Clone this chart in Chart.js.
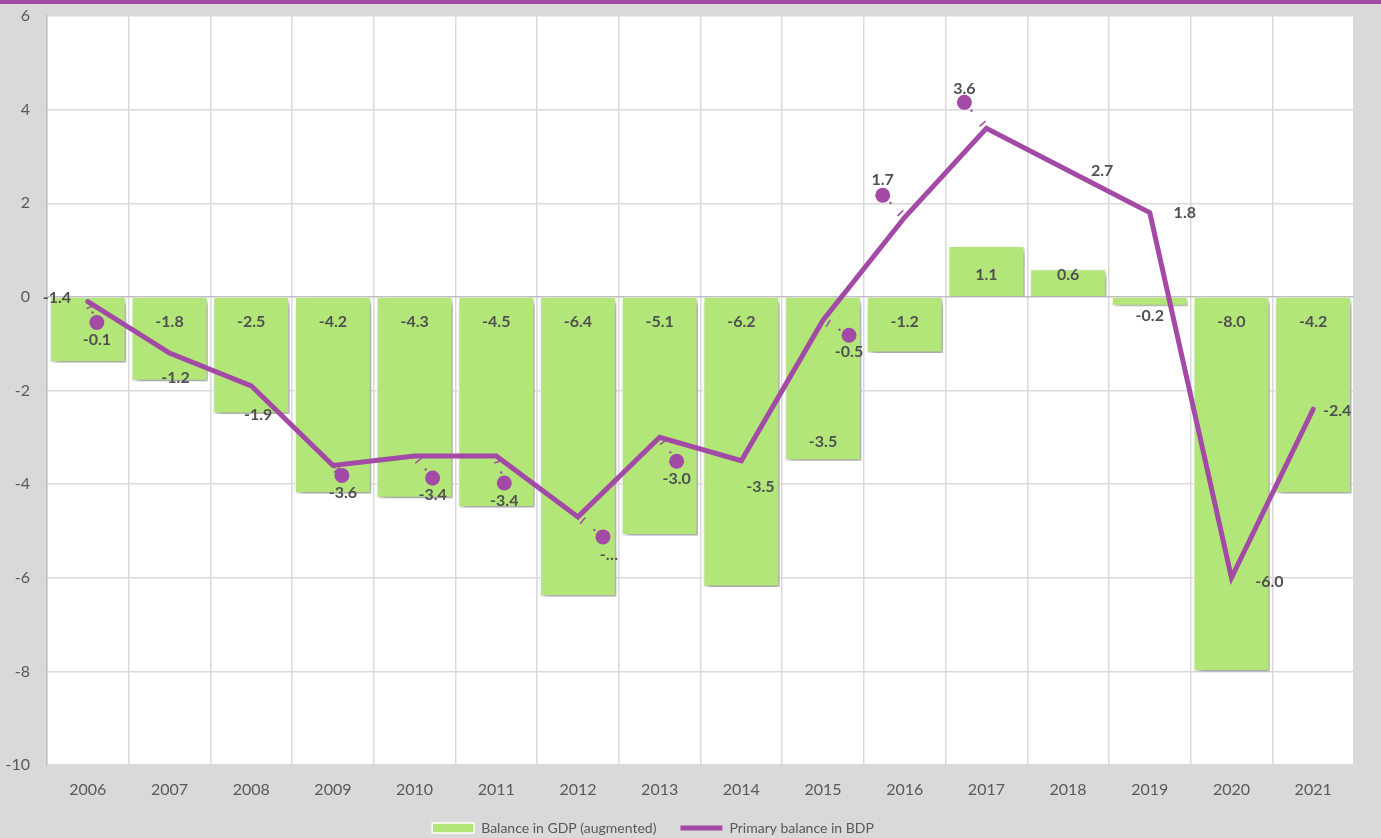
<!DOCTYPE html>
<html>
<head>
<meta charset="utf-8">
<script src="https://cdn.jsdelivr.net/npm/chart.js@4.4.1/dist/chart.umd.min.js"></script>
<style>
  html, body { margin: 0; padding: 0; background: #d9d9d9; }
  #wrap { width: 1381px; height: 838px; position: relative; }
</style>
</head>
<body>
<div id="wrap"><canvas id="balanceChart"></canvas></div>
<script>
const years = [
  "2006", "2007", "2008", "2009", "2010", "2011", "2012", "2013",
  "2014", "2015", "2016", "2017", "2018", "2019", "2020", "2021",
];

const balanceGdp = [
  -1.4, -1.8, -2.5, -4.2, -4.3, -4.5, -6.4, -5.1,
  -6.2, -3.5, -1.2, 1.1, 0.6, -0.2, -8.0, -4.2,
];

const primaryBalance = [
  -0.1, -1.2, -1.9, -3.6, -3.4, -3.4, -4.7, -3.0,
  -3.5, -0.5, 1.7, 3.6, 2.7, 1.8, -6.0, -2.4,
];

const yTicks = [-10, -8, -6, -4, -2, 0, 2, 4, 6];

// labels excel cut short
const truncatedLine = [6];

const FONT = "Lato";
const GREEN = "#b2e679";
const PURPLE = "#a24aa5";
const TEXT_GREY = "#595959";
const LABEL_GREY = "#505050";

// ── label placement (pixels, moved by hand in the original) ──
const barLabelNudge = { 0: [-31, -24], 9: [0, 120], 13: [0, -6] };

// [labelDx, labelDy, dotDx, dotDy]
const lineLabelOffsets = [
  [9, 38, 9, 21],
  [6, 25],
  [7, 29],
  [10, 27, 9, 10],
  [18, 39, 18, 22],
  [8, 45, 8, 27],
  [31, 38, 25, 20],
  [17, 42, 17, 24],
  [19, 26],
  [26, 32, 26, 15],
  [-22, -37, -22, -22],
  [-22, -40, -22, -26],
  [34, 0],
  [35, 0],
  [38, 4],
  [24, 2],
];

// ── background + plot area ───────────────────────────────
const backdropPlugin = {
  id: "backdrop",
  afterLayout(chart) {
    // legend sits a bit left of the canvas centre in the original
    chart.legend.left -= 24;
    chart.legend.right -= 24;
  },
  beforeDraw(chart) {
    const { ctx: c, chartArea: a, width, height } = chart;
    c.save();
    c.fillStyle = "#d9d9d9";
    c.fillRect(0, 0, width, height);
    c.fillStyle = PURPLE;
    c.fillRect(0, 0, width, 4);
    c.fillStyle = "#ffffff";
    c.fillRect(a.left, a.top, a.right - a.left, a.bottom - a.top);
    c.restore();
  },
};

// ── bar drop shadow ──────────────────────────────────────
const barShadowPlugin = {
  id: "barShadow",
  beforeDatasetDraw(chart, args) {
    if (args.index !== 0) return;
    const c = chart.ctx;
    c.save();
    c.shadowColor = "rgba(0,0,0,0.38)";
    c.shadowBlur = 6;
    c.shadowOffsetX = 3;
    c.shadowOffsetY = 4;
  },
  afterDatasetDraw(chart, args) {
    if (args.index !== 0) return;
    chart.ctx.restore();
  },
};

// ── data labels ──────────────────────────────────────────
const valueLabelPlugin = {
  id: "valueLabels",
  afterDatasetsDraw(chart) {
    const c = chart.ctx;
    const zero = chart.scales.y.getPixelForValue(0);

    c.save();
    c.font = `bold 16px ${FONT}`;
    c.textAlign = "center";
    c.textBaseline = "middle";

    chart.getDatasetMeta(0).data.forEach((bar, i) => {
      const v = balanceGdp[i];
      const nudge = barLabelNudge[i] || [0, 0];
      const y = v < 0 ? zero + 25 : zero - 22;
      c.fillStyle = LABEL_GREY;
      c.fillText(v.toFixed(1), bar.x + nudge[0], y + nudge[1]);
    });

    chart.getDatasetMeta(1).data.forEach((pt, i) => {
      const [dx, dy, ddx, ddy] = lineLabelOffsets[i];

      if (ddx !== undefined) {
        const tx = pt.x + ddx;
        const ty = pt.y + ddy;
        const len = Math.hypot(tx - pt.x, ty - pt.y) || 1;
        const ux = (tx - pt.x) / len;
        const uy = (ty - pt.y) / len;

        // leader: small cap near the line, tiny dot near the marker
        c.strokeStyle = PURPLE;
        c.lineWidth = 1.5;
        c.beginPath();
        const bx = pt.x + ux * 6;
        const by = pt.y + uy * 6;
        c.moveTo(bx - uy * 4, by + ux * 4);
        c.lineTo(bx + uy * 4, by - ux * 4);
        c.stroke();

        c.fillStyle = PURPLE;
        c.beginPath();
        c.arc(tx - ux * 11, ty - uy * 11, 1.2, 0, Math.PI * 2);
        c.fill();

        c.beginPath();
        c.arc(tx, ty, 7.5, 0, Math.PI * 2);
        c.fill();
      }

      const text = truncatedLine.includes(i)
        ? "-…"
        : primaryBalance[i].toFixed(1);
      c.fillStyle = LABEL_GREY;
      c.fillText(text, pt.x + dx, pt.y + dy);
    });

    c.restore();
  },
};

const canvas = document.getElementById("balanceChart");

const chart = new Chart(canvas, {
  data: {
    labels: years,
    datasets: [
      {
        type: "bar",
        label: "Balance in GDP (augmented)",
        data: balanceGdp,
        backgroundColor: GREEN,
        borderColor: "#ffffff",
        borderWidth: 1.5,
        barPercentage: 0.94,
        categoryPercentage: 1,
        pointStyle: "rect",
        order: 1,
      },
      {
        type: "line",
        label: "Primary balance in BDP",
        data: primaryBalance,
        borderColor: PURPLE,
        backgroundColor: PURPLE,
        borderWidth: 5,
        borderCapStyle: "round",
        tension: 0,
        pointRadius: 0,
        pointHoverRadius: 0,
        pointStyle: "line",
        order: 0,
      },
    ],
  },
  options: {
    responsive: true,
    maintainAspectRatio: false,
    animation: false,
    layout: { padding: { top: 16, right: 27, bottom: -7, left: 0 } },
    plugins: {
      legend: {
        position: "bottom",
        labels: {
          usePointStyle: true,
          pointStyleWidth: 42,
          boxHeight: 10,
          padding: 24,
          color: TEXT_GREY,
          font: { size: 14, family: FONT },
          sort: (a, b) => a.datasetIndex - b.datasetIndex,
        },
      },
      tooltip: { enabled: false },
    },
    scales: {
      x: {
        offset: true,
        grid: {
          offset: true,
          color: "#d9d9d9",
          lineWidth: 1.5,
          drawTicks: false,
        },
        border: { display: false },
        ticks: {
          padding: 15,
          color: TEXT_GREY,
          font: { size: 16, family: FONT },
        },
        afterFit(scale) {
          scale.height = 32;
          scale.paddingLeft = 0;
          scale.paddingRight = 0;
        },
      },
      y: {
        min: yTicks[0],
        max: yTicks[yTicks.length - 1],
        afterBuildTicks(scale) {
          scale.ticks = yTicks.map((v) => ({ value: v }));
        },
        grid: {
          color: (ctx) => (ctx.tick && ctx.tick.value === 0 ? "#bfbfbf" : "#d9d9d9"),
          lineWidth: 1.5,
          drawTicks: false,
        },
        border: { display: true, color: "#bfbfbf", width: 1.5 },
        ticks: {
          padding: 17,
          color: TEXT_GREY,
          font: { size: 16, family: FONT },
        },
        afterFit(scale) {
          scale.width = 47;
          scale.paddingTop = 0;
          scale.paddingBottom = 0;
        },
      },
    },
  },
  plugins: [backdropPlugin, barShadowPlugin, valueLabelPlugin],
});
</script>
</body>
</html>
